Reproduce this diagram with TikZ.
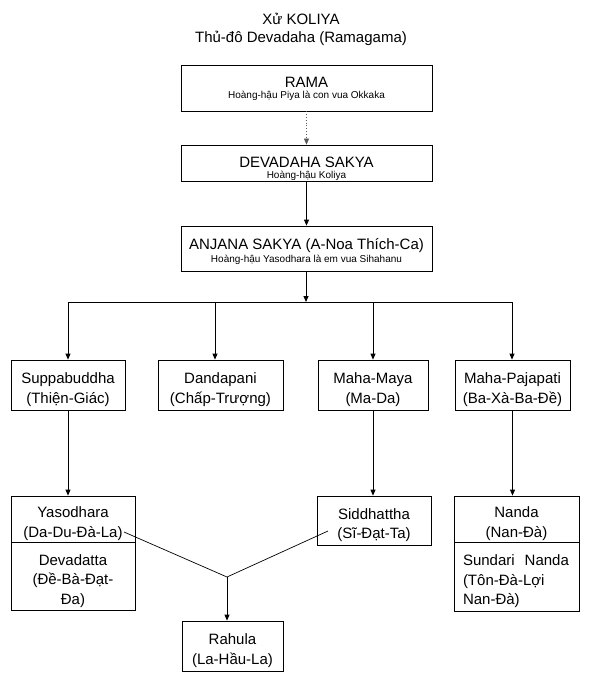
\documentclass[tikz,border=0pt]{standalone}
\usepackage{fontspec}
\setmainfont{Liberation Sans}
\usetikzlibrary{arrows.meta}
\begin{document}
\begin{tikzpicture}[x=1pt,y=-1pt,
  tbox/.style={draw, line width=0.8pt, inner sep=0pt, align=center, font=\fontsize{15}{18}\selectfont},
  box/.style={tbox, font=\fontsize{15}{19.5}\selectfont,
    execute at begin node={\rule{0pt}{21pt}},
    execute at end node={\rule[-4pt]{0pt}{0pt}}},
  maintxt/.style={inner sep=0pt, anchor=base, font=\fontsize{15}{18}\selectfont},
  subtxt/.style={inner sep=0pt, anchor=base, font=\fontsize{10}{12}\selectfont},
  arr/.style={-{Triangle[length=6pt,width=5pt]}, line width=0.8pt},
  ln/.style={line width=0.8pt},
  thinln/.style={line width=0.7pt}]
\fill[white] (0,0) rectangle (599,673);
\useasboundingbox (0,0) rectangle (599,673);

\node[align=center, font=\fontsize{15}{18}\selectfont] (title) at (301,29) {Xử KOLIYA\\Thủ-đô Devadaha (Ramagama)};

\node[tbox, minimum width=251pt, minimum height=46pt] (rama) at (306.5,88) {};
\node[maintxt] (ramaT) at (306.5,87.5) {RAMA};
\node[subtxt] (ramaS) at (306.5,98.5) {Hoàng-hậu Piya là con vua Okkaka};

\node[tbox, minimum width=251pt, minimum height=36pt] (deva0) at (306.5,163) {};
\node[maintxt] (deva0T) at (306.5,167.5) {DEVADAHA SAKYA};
\node[subtxt] (deva0S) at (306.5,178.5) {Hoàng-hậu Koliya};

\node[tbox, minimum width=251pt, minimum height=45pt] (anjana) at (306.5,248.5) {};
\node[maintxt] (anjanaT) at (306.5,249.5) {ANJANA SAKYA (A-Noa Thích-Ca)};
\node[subtxt] (anjanaS) at (306.5,262.5) {Hoàng-hậu Yasodhara là em vua Sihahanu};

\node[box, minimum width=114pt, minimum height=50pt, text width=112pt] (supp) at (68,385) {Suppabuddha\\(Thiện-Giác)};
\node[box, minimum width=125pt, minimum height=50pt, text width=123pt] (dand) at (220.5,385) {Dandapani\\(Chấp-Trượng)};
\node[box, minimum width=110pt, minimum height=50pt, text width=108pt] (maya) at (373,385) {Maha-Maya\\(Ma-Da)};
\node[box, minimum width=115pt, minimum height=50pt, text width=113pt] (paja) at (512.5,385) {Maha-Pajapati\\(Ba-Xà-Ba-Đề)};

\node[box, minimum width=124pt, minimum height=46pt, text width=122pt] (yaso) at (73,519) {Yasodhara\\(Da-Du-Đà-La)};
\node[box, minimum width=124pt, minimum height=68pt, text width=122pt] (devadatta) at (73,576) {Devadatta\\(Đề-Bà-Đạt-\\Đa)};
\node[box, minimum width=114pt, minimum height=49pt, text width=112pt] (sidd) at (374,520.5) {Siddhattha\\(Sĩ-Đạt-Ta)};
\node[box, minimum width=125pt, minimum height=46pt, text width=123pt] (nanda) at (516.5,519) {Nanda\\(Nan-Đà)};
\node[box, minimum width=125pt, minimum height=69pt, align=left, text width=107pt, inner xsep=9pt] (sund) at (516.5,576.5) {Sundari\ \ Nanda\\(Tôn-Đà-Lợi\\Nan-Đà)};
\node[box, minimum width=101pt, minimum height=50pt, text width=99pt] (rahula) at (232.5,646) {Rahula\\(La-Hầu-La)};

% connectors
\draw[arr, dotted, line width=0.6pt, gray!70!black] (rama.south) -- (deva0.north);
\draw[arr] (deva0.south) -- (anjana.north);
\coordinate (hb) at (306,302);
\coordinate (hl) at (68,302);
\coordinate (hr) at (512,302);
\coordinate (dd) at (215,302);
\draw[arr] (anjana.south -| hb) -- (hb);
\draw[ln] (hl) -- (hr);
\draw[arr] (hl) -- (supp.north -| hl);
\draw[arr] (dd) -- (dand.north -| dd);
\draw[arr] (maya.north |- hb) -- (maya.north);
\draw[arr] (hr) -- (paja.north -| hr);

\draw[arr] (supp.south) -- (supp.south |- yaso.north);
\draw[arr] (maya.south) -- (maya.south |- sidd.north);
\draw[arr] (paja.south) -- (paja.south |- nanda.north);

\coordinate (ya) at (124,532);
\coordinate (si) at (328,531);
\coordinate (j) at (227,577);
\draw[thinln] (ya) -- (j) -- (si);
\draw[arr] (j) -- (j |- rahula.north);
\end{tikzpicture}
\end{document}
